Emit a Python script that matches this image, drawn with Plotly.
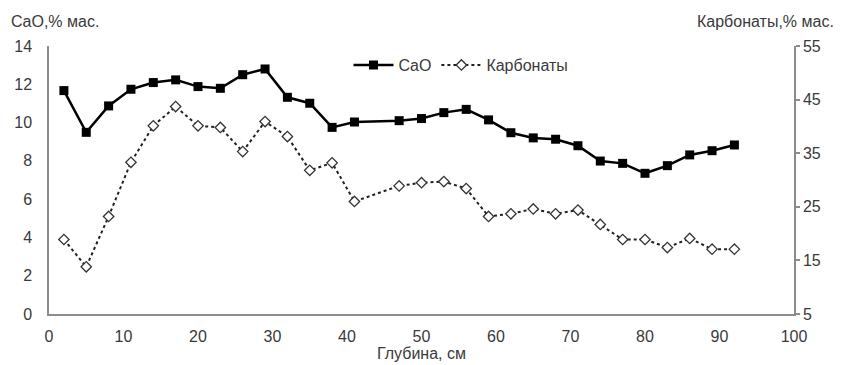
import plotly.graph_objects as go

depth = [2, 5, 8, 11, 14, 17, 20, 23, 26, 29, 32, 35, 38, 41, 47, 50, 53, 56, 59, 62, 65, 68, 71, 74, 77, 80, 83, 86, 89, 92]
cao = [11.67, 9.49, 10.87, 11.74, 12.09, 12.23, 11.88, 11.79, 12.50, 12.80, 11.32, 11.01, 9.75, 10.03,
       10.10, 10.21, 10.52, 10.69, 10.14, 9.47, 9.20, 9.13, 8.79, 7.99, 7.87, 7.35, 7.75, 8.31, 8.53, 8.83]
carb = [18.9, 13.8, 23.2, 33.3, 40.1, 43.7, 40.1, 39.8, 35.3, 40.9, 38.1, 31.8, 33.2, 26.0,
        28.9, 29.5, 29.7, 28.4, 23.2, 23.7, 24.6, 23.7, 24.4, 21.7, 18.9, 18.9, 17.4, 19.1, 17.1, 17.1]

x_ticks = [0, 10, 20, 30, 40, 50, 60, 70, 80, 90, 100]
y1_ticks = [0, 2, 4, 6, 8, 10, 12, 14]
y2_ticks = [5, 15, 25, 35, 45, 55]

FONT = "Liberation Sans, Arial, sans-serif"
TXT = "#3a3a3a"
AX = "#8c8c8c"
FS = 16

fig = go.Figure()
fig.add_trace(go.Scatter(
    x=depth, y=cao, name="CaO", mode="lines+markers",
    line=dict(color="black", width=2.5),
    marker=dict(symbol="square", size=9, color="black"),
    yaxis="y"))
fig.add_trace(go.Scatter(
    x=depth, y=carb, name="Карбонаты", mode="lines+markers",
    line=dict(color="#222222", width=2, dash="dot"),
    marker=dict(symbol="diamond", size=8, color="white", line=dict(color="#333333", width=1.3)),
    yaxis="y2"))

fig.update_layout(
    width=836, height=357,
    margin=dict(l=41, r=50, t=38, b=51, autoexpand=False),
    paper_bgcolor="white", plot_bgcolor="white",
    font=dict(family=FONT, size=FS, color=TXT),
    showlegend=True,
    legend=dict(orientation="h", x=0.402, y=0.929, xanchor="left", yanchor="middle",
                bgcolor="rgba(0,0,0,0)", font=dict(size=FS, color=TXT),
                itemwidth=40, tracegroupgap=0),
    xaxis=dict(range=[0, 100], tickvals=x_ticks, showgrid=False, zeroline=False, automargin=False,
               showline=True, linecolor=AX, linewidth=1.5, ticks="outside", ticklen=7,
               tickcolor="rgba(0,0,0,0)", tickfont=dict(size=FS, color=TXT),
               title=dict(text="Глубина, см", font=dict(size=FS, color=TXT), standoff=2)),
    yaxis=dict(range=[0, 14], tickvals=y1_ticks, showgrid=False, zeroline=False, automargin=False,
               showline=True, linecolor=AX, linewidth=1.5, ticks="outside", ticklen=12,
               tickcolor="rgba(0,0,0,0)", tickfont=dict(size=FS, color=TXT)),
    yaxis2=dict(range=[5, 55], tickvals=y2_ticks, overlaying="y", side="right", automargin=False,
                showgrid=False, zeroline=False, showline=True, linecolor=AX, linewidth=1.5,
                ticks="outside", ticklen=4, tickcolor=AX, tickwidth=1.5,
                tickfont=dict(size=FS, color=TXT)),
    annotations=[
        dict(text="CaO,% мас.", xref="paper", yref="paper", x=-0.054, y=1.09,
             xanchor="left", yanchor="middle", showarrow=False, font=dict(size=FS, color=TXT)),
        dict(text="Карбонаты,% мас.", xref="paper", yref="paper", x=1.057, y=1.09,
             xanchor="right", yanchor="middle", showarrow=False, font=dict(size=FS, color=TXT)),
    ],
)

fig.write_html("out.html")
